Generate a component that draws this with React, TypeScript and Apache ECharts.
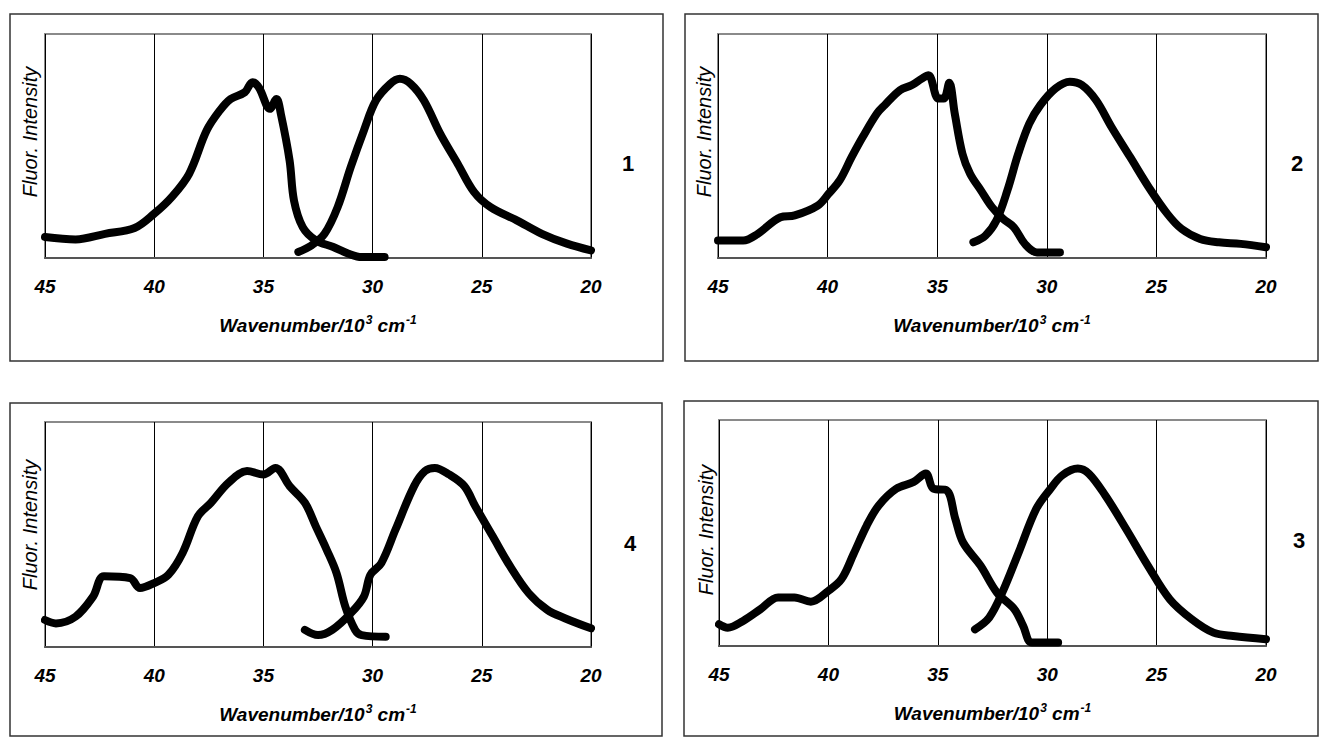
import React, { useEffect, useRef } from "react";
import * as echarts from "echarts";

// wavenumber ticks (10^3 cm^-1)
const xTicks = [45, 40, 35, 30, 25, 20];
const panelNames = ["1", "2", "4", "3"];
const xTitle = "Wavenumber/10{s|3} cm{s|-1}";
const yTitle = "Fluor. Intensity";

// Panel 1
const p1Excitation = [
  [45, 9.4], [43.6, 8.3], [42.25, 10.8], [40.9, 13.4], [40, 19.8], [39.2, 27.2], [38.4, 37.6],
  [37.6, 56.9], [37.0, 65.8], [36.5, 71.0], [35.85, 74.0], [35.5, 78.5], [35.2, 76.0],
  [34.7, 66.6], [34.4, 71.0], [34.2, 64.3], [33.8, 43.5], [33.6, 25.7], [33.2, 13.8],
  [32.6, 7.9], [31.8, 4.9], [31.1, 1.9], [30.5, 0.4], [29.45, 0.4],
];
const p1Emission = [
  [33.4, 2.7], [32.8, 5.6], [32.2, 10.8], [31.6, 22.7], [31.0, 40.6], [30.4, 56.9], [29.85, 70.3],
  [29.2, 77.7], [28.75, 80.0], [28.25, 77.7], [27.65, 70.3], [26.9, 55.4], [26.1, 42.0],
  [25.35, 29.4], [24.6, 22.7], [23.4, 16.8], [22.25, 10.8], [21.1, 6.4], [20.0, 3.4],
];

// Panel 2
const p2Excitation = [
  [45, 7.8], [43.85, 7.8], [43.2, 10.7], [42.15, 18.2], [41.5, 19.0], [40.45, 23.4], [39.95, 28.7],
  [39.45, 34.6], [38.9, 45.1], [38.4, 54.0], [37.75, 64.5], [37.4, 68.2], [36.7, 74.9],
  [36.15, 77.2], [35.7, 80.1], [35.4, 81.6], [34.95, 71.2], [34.7, 71.2], [34.45, 78.2],
  [34.2, 64.5], [33.85, 46.6], [33.5, 37.6], [33.0, 30.1], [32.5, 22.7], [32.0, 17.5],
  [31.5, 13.7], [31.0, 6.3], [30.45, 2.5], [29.4, 2.5],
];
const p2Emission = [
  [33.35, 7.0], [32.8, 10.0], [32.3, 16.7], [31.8, 30.1], [31.3, 46.6], [30.8, 60.0], [30.3, 68.2],
  [29.6, 75.7], [28.95, 78.7], [28.4, 77.2], [27.75, 70.4], [27.05, 58.5], [26.2, 45.1],
  [25.35, 31.6], [24.5, 19.7], [23.85, 13.0], [23.0, 8.5], [22.15, 7.0], [21.15, 6.3], [20, 4.8],
];

// Panel 4
const p4Excitation = [
  [45, 12.0], [44.5, 10.5], [43.6, 13.5], [42.8, 22.4], [42.3, 31.4], [41.1, 30.6], [40.65, 26.2],
  [40.0, 28.4], [39.35, 32.1], [38.7, 41.8], [38.0, 58.1], [37.4, 64.1], [36.6, 73.0],
  [35.75, 78.2], [35.0, 76.7], [34.45, 79.6], [33.8, 71.5], [33.1, 64.1], [32.6, 53.6],
  [32.1, 43.2], [31.65, 32.8], [31.25, 18.0], [30.8, 7.6], [30.5, 5.3], [29.4, 4.6],
];
const p4Emission = [
  [33.1, 7.6], [32.5, 5.3], [31.85, 7.6], [31.0, 15.0], [30.4, 22.4], [30.1, 32.1], [29.6, 37.3],
  [28.95, 52.2], [28.1, 71.5], [27.6, 78.2], [27.15, 79.6], [26.5, 76.7], [25.8, 71.5],
  [25.3, 62.6], [24.5, 49.2], [23.7, 35.8], [22.85, 23.9], [22.0, 16.5], [21.2, 12.8], [20, 8.3],
];

// Panel 3
const p3Excitation = [
  [45, 9.6], [44.6, 8.1], [43.9, 11.1], [43.1, 16.3], [42.3, 21.5], [41.55, 21.5], [40.8, 19.6],
  [40.0, 24.4], [39.4, 29.6], [38.85, 40.7], [38.25, 53.3], [37.7, 62.2], [36.9, 69.6],
  [36.1, 72.6], [35.55, 76.3], [35.2, 69.6], [34.6, 68.9], [34.2, 56.3], [33.85, 45.9],
  [33.05, 35.6], [32.3, 23.7], [31.5, 16.3], [31.1, 8.9], [30.7, 1.5], [29.5, 1.5],
];
const p3Emission = [
  [33.3, 7.4], [32.65, 12.6], [32.05, 23.7], [31.3, 41.5], [30.5, 60.7], [29.85, 69.6], [29.3, 75.6],
  [28.6, 78.5], [28.1, 76.3], [27.35, 66.7], [26.4, 51.9], [25.4, 35.6], [24.4, 20.7],
  [23.4, 11.9], [22.4, 5.9], [21.5, 4.4], [20, 3.0],
];

const panelSeries = [
  [p1Excitation, p1Emission],
  [p2Excitation, p2Emission],
  [p4Excitation, p4Emission],
  [p3Excitation, p3Emission],
];

// layout (pixels)
const grids = [
  { left: 45, top: 34, width: 546, height: 224 },
  { left: 718, top: 34, width: 548, height: 224 },
  { left: 45, top: 422, width: 546, height: 225 },
  { left: 719, top: 420, width: 547, height: 226 },
];
const boxes = [
  { x: 10, y: 14, w: 653, h: 347 },
  { x: 685, y: 14, w: 633, h: 347 },
  { x: 10, y: 403, w: 652, h: 333 },
  { x: 684, y: 401, w: 634, h: 335 },
];
const numPos = [
  { x: 628, y: 163 },
  { x: 1297, y: 163 },
  { x: 630, y: 543 },
  { x: 1299, y: 540 },
];
const yTitlePos = [
  { x: 30, y: 132 },
  { x: 704, y: 132 },
  { x: 30, y: 525 },
  { x: 706, y: 530 },
];

const sans = "'Liberation Sans', Arial, sans-serif";

export default function App() {
  const ref = useRef<HTMLDivElement>(null);
  useEffect(() => {
    if (!ref.current) return;
    const chart = echarts.init(ref.current, undefined, { renderer: "svg" });
    const xAxes: any[] = [];
    const yAxes: any[] = [];
    const series: any[] = [];
    const graphic: any[] = [];
    grids.forEach((g, i) => {
      xAxes.push({
        type: "value",
        gridIndex: i,
        min: xTicks[xTicks.length - 1],
        max: xTicks[0],
        interval: 5,
        inverse: true,
        z: 4,
        axisLine: { show: true, lineStyle: { color: "#555", width: 2 } },
        axisTick: { show: false },
        splitLine: { show: true, lineStyle: { color: "#000", width: 1 } },
        axisLabel: {
          margin: 19,
          fontSize: 19,
          fontStyle: "italic",
          fontWeight: "bold",
          fontFamily: sans,
          color: "#000",
        },
        name: xTitle,
        nameLocation: "middle",
        nameGap: 56,
        nameTextStyle: {
          fontSize: 19,
          fontStyle: "italic",
          fontWeight: "bold",
          fontFamily: sans,
          color: "#000",
          rich: {
            s: {
              fontSize: 12,
              fontStyle: "italic",
              fontWeight: "bold",
              fontFamily: sans,
              color: "#000",
              verticalAlign: "top",
              padding: [0, 0, 10, 1],
            },
          },
        },
      });
      yAxes.push({
        type: "value",
        gridIndex: i,
        min: 0,
        max: 100,
        axisLine: { show: false },
        axisTick: { show: false },
        axisLabel: { show: false },
        splitLine: { show: false },
      });
      panelSeries[i].forEach((d, k) => {
        series.push({
          type: "line",
          xAxisIndex: i,
          yAxisIndex: i,
          data: d,
          smooth: 0.35,
          symbol: "none",
          z: 5,
          lineStyle: { color: "#000", width: 8, cap: "round", join: "round" },
          name: `p${panelNames[i]}-${k}`,
        });
      });
      graphic.push({
        type: "rect",
        z: 3,
        shape: { x: g.left, y: g.top, width: g.width, height: g.height },
        style: { fill: "none", stroke: "#8a8a8a", lineWidth: 2 },
      });
      const b = boxes[i];
      graphic.push({
        type: "rect",
        z: 1,
        shape: { x: b.x, y: b.y, width: b.w, height: b.h },
        style: { fill: "none", stroke: "#333", lineWidth: 1.5 },
      });
      graphic.push({
        type: "text",
        z: 6,
        x: numPos[i].x,
        y: numPos[i].y,
        style: {
          text: panelNames[i],
          fontSize: 22,
          fontWeight: "bold",
          fontFamily: sans,
          fill: "#000",
          align: "center",
          verticalAlign: "middle",
        },
      });
      graphic.push({
        type: "text",
        z: 6,
        x: yTitlePos[i].x,
        y: yTitlePos[i].y,
        rotation: Math.PI / 2,
        style: {
          text: yTitle,
          fontSize: 20,
          fontStyle: "italic",
          fontFamily: sans,
          fill: "#000",
          align: "center",
          verticalAlign: "middle",
        },
      });
    });
    chart.setOption({
      animation: false,
      backgroundColor: "#fff",
      grid: grids.map((g) => ({ ...g, containLabel: false })),
      xAxis: xAxes,
      yAxis: yAxes,
      series,
      graphic,
    });
    return () => chart.dispose();
  }, []);
  return (
    <div
      ref={ref}
      style={{ position: "fixed", left: 0, top: 0, width: 1327, height: 744 }}
    />
  );
}
